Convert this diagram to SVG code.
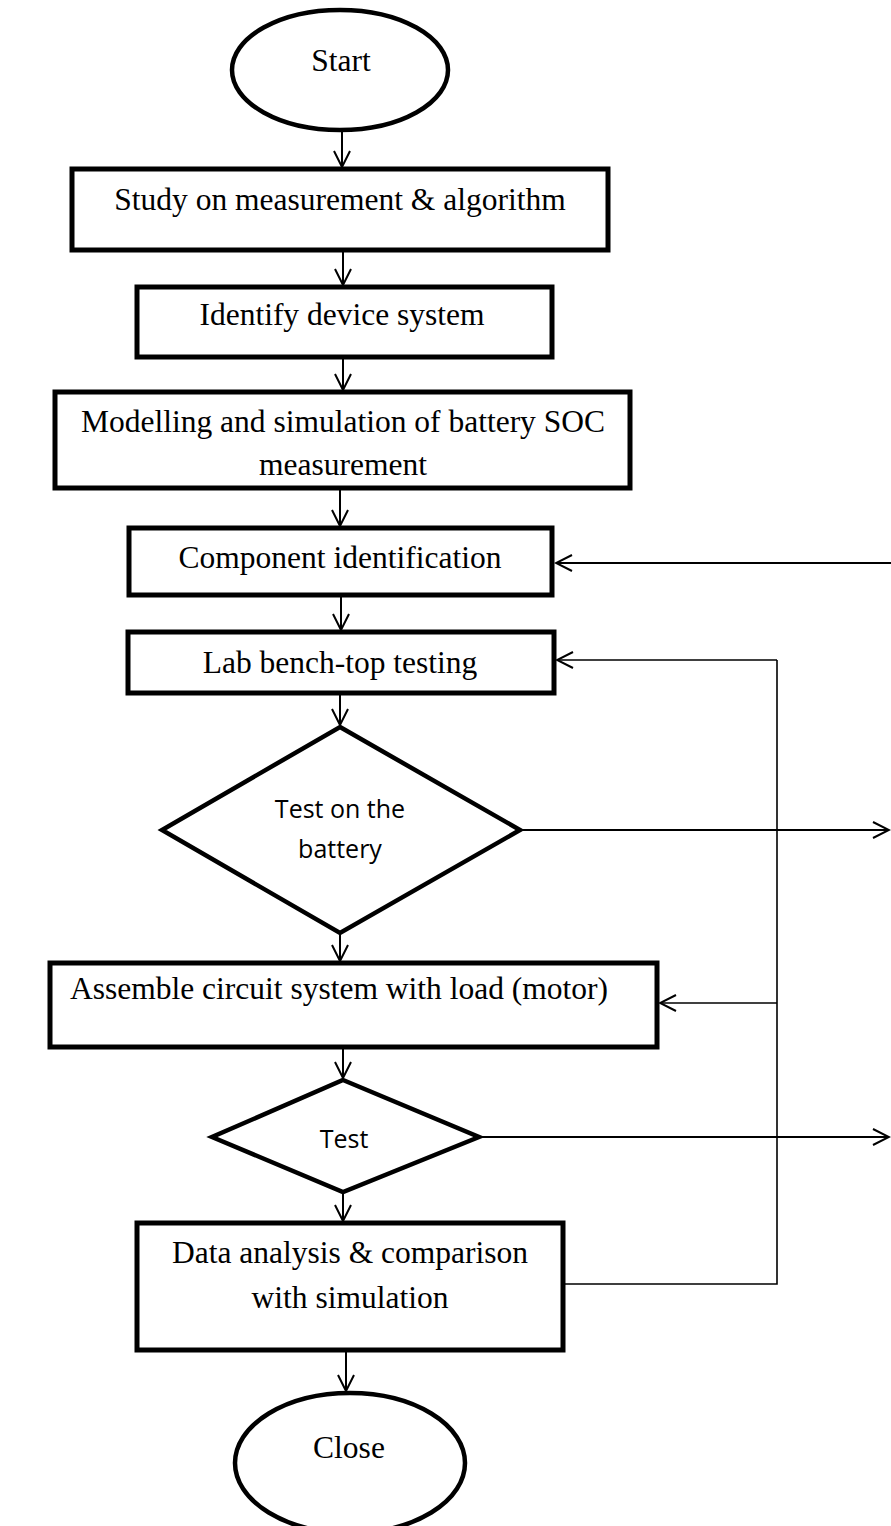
<svg xmlns="http://www.w3.org/2000/svg" width="891" height="1526" viewBox="0 0 891 1526">
<defs>
<style>
.box{fill:#fff;stroke:#000;stroke-width:5}
.dia{fill:#fff;stroke:#000;stroke-width:4.5;stroke-linejoin:miter}
.t{font-family:"Liberation Serif","Times New Roman",serif;font-size:31.5px;fill:#000;text-anchor:middle}
.s{font-family:"Open Sans","Liberation Sans",sans-serif;font-size:25px;fill:#000;text-anchor:middle}
.c{fill:none;stroke:#000;stroke-width:2}
.f{fill:none;stroke:#000;stroke-width:1.6}
</style>
<marker id="a" markerUnits="userSpaceOnUse" markerWidth="20" markerHeight="20" viewBox="-18 -10 20 20" refX="0" refY="0" orient="auto">
<path d="M-16,-8 L0,0 L-16,8" fill="none" stroke="#000" stroke-width="2"/>
</marker>
</defs>
<rect width="891" height="1526" fill="#fff"/>
<g id="connectors">
<line class="c" x1="342" y1="130" x2="342" y2="167" marker-end="url(#a)"/>
<line class="c" x1="343" y1="252" x2="343" y2="285" marker-end="url(#a)"/>
<line class="c" x1="343" y1="359" x2="343" y2="390" marker-end="url(#a)"/>
<line class="c" x1="340" y1="490" x2="340" y2="526" marker-end="url(#a)"/>
<line class="c" x1="341" y1="597" x2="341" y2="630" marker-end="url(#a)"/>
<line class="c" x1="340" y1="695" x2="340" y2="725" marker-end="url(#a)"/>
<line class="c" x1="340" y1="935" x2="340" y2="961" marker-end="url(#a)"/>
<line class="c" x1="343" y1="1049" x2="343" y2="1078" marker-end="url(#a)"/>
<line class="c" x1="343" y1="1192" x2="343" y2="1221" marker-end="url(#a)"/>
<line class="c" x1="346" y1="1352" x2="346" y2="1391" marker-end="url(#a)"/>
<line class="c" x1="891" y1="563" x2="556" y2="563" marker-end="url(#a)"/>
<line class="c" x1="520" y1="830" x2="889" y2="830" marker-end="url(#a)"/>
<line class="c" x1="479" y1="1137" x2="889" y2="1137" marker-end="url(#a)"/>
<polyline class="f" points="563,1284 777,1284 777,660"/>
<line class="f" x1="777" y1="660" x2="557" y2="660" marker-end="url(#a)"/>
<line class="f" x1="777" y1="1003" x2="660" y2="1003" marker-end="url(#a)"/>
</g>
<g id="start">
<ellipse cx="340" cy="70" rx="108" ry="60" fill="#fff" stroke="#000" stroke-width="4.5"/>
<text class="t" x="341" y="71">Start</text>
</g>
<g id="study">
<rect class="box" x="72" y="169" width="536" height="81"/>
<text class="t" x="340" y="210">Study on measurement &amp; algorithm</text>
</g>
<g id="identify">
<rect class="box" x="137" y="287" width="415" height="70"/>
<text class="t" x="342" y="325">Identify device system</text>
</g>
<g id="modelling">
<rect class="box" x="55" y="392" width="575" height="96"/>
<text class="t" x="343" y="432">Modelling and simulation of battery SOC</text>
<text class="t" x="343" y="475">measurement</text>
</g>
<g id="component">
<rect class="box" x="129" y="528" width="423" height="67"/>
<text class="t" x="340" y="568">Component identification</text>
</g>
<g id="lab">
<rect class="box" x="128" y="632" width="426" height="61"/>
<text class="t" x="340" y="673">Lab bench-top testing</text>
</g>
<g id="test-battery">
<polygon class="dia" points="340,727 520,830 340,933 162,830"/>
<text class="s" x="340" y="818">Test on the</text>
<text class="s" x="340" y="858">battery</text>
</g>
<g id="assemble">
<rect class="box" x="50" y="963" width="607" height="84"/>
<text class="t" x="339" y="999">Assemble circuit system with load (motor)</text>
</g>
<g id="test">
<polygon class="dia" points="343,1080 479,1137 343,1192 212,1137"/>
<text class="s" x="344" y="1148">Test</text>
</g>
<g id="data">
<rect class="box" x="137" y="1223" width="426" height="127"/>
<text class="t" x="350" y="1263">Data analysis &amp; comparison</text>
<text class="t" x="350" y="1308">with simulation</text>
</g>
<g id="close">
<ellipse cx="350" cy="1463" rx="115" ry="70" fill="#fff" stroke="#000" stroke-width="4.5"/>
<text class="t" x="349" y="1458">Close</text>
</g>
</svg>
